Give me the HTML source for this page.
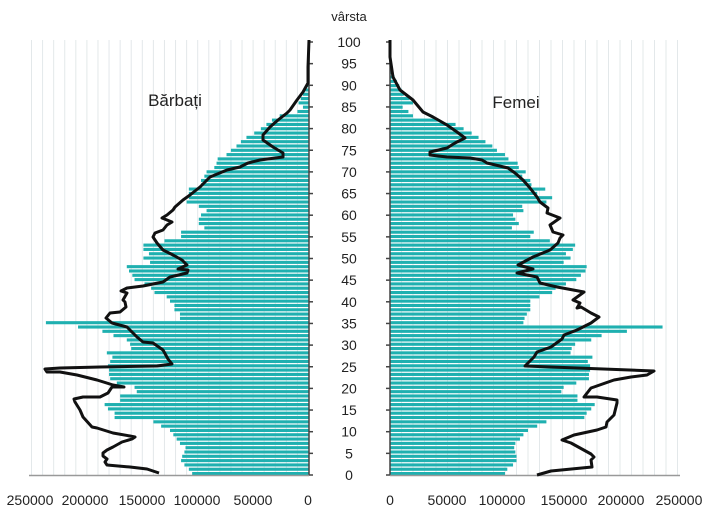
<!DOCTYPE html>
<html><head><meta charset="utf-8"><style>
html,body{margin:0;padding:0;background:#fff;}
svg{display:block;font-family:"Liberation Sans",Arial,sans-serif;}
</style></head><body>
<svg id="s" width="728" height="531" viewBox="0 0 728 531" xmlns="http://www.w3.org/2000/svg">
<g id="grid" stroke="#e3e8ea" stroke-width="1"></g>
<g id="bars" fill="#1fb0b0"></g>
<g id="axes" stroke="#444" stroke-width="1.5" fill="none"></g>
<polyline id="ml" fill="none" stroke="#111" stroke-width="3" stroke-linejoin="round"/>
<polyline id="fl" fill="none" stroke="#111" stroke-width="3" stroke-linejoin="round"/>
<g font-size="14" fill="#222" text-anchor="middle">
<text x="349" y="21" font-size="13">vârsta</text>
<text x="175" y="106" font-size="17">Bărbați</text>
<text x="516" y="108" font-size="17">Femei</text>
</g>
<g id="agel" font-size="14" fill="#222" text-anchor="middle"></g>
<g font-size="14" fill="#222" text-anchor="middle">
<text x="30" y="505">250000</text>
<text x="85" y="505">200000</text>
<text x="142" y="505">150000</text>
<text x="197" y="505">100000</text>
<text x="253" y="505">50000</text>
<text x="308" y="505">0</text>
<text x="390" y="505">0</text>
<text x="447" y="505">50000</text>
<text x="502" y="505">100000</text>
<text x="564" y="505">150000</text>
<text x="621" y="505">200000</text>
<text x="679" y="505">250000</text>
</g>
</svg>
<script>
var NS="http://www.w3.org/2000/svg";
function el(p,t,a){var e=document.createElementNS(NS,t);for(var k in a)e.setAttribute(k,a[k]);document.getElementById(p).appendChild(e);return e;}
var L0=308.5,LS=0.001108,R0=390,RS=0.00115;
function yA(a){return 473.5-4.31*a;}
// grid
for(var v=10000;v<=250000;v+=10000){
 var xl=L0-v*LS; el('grid','line',{x1:xl,y1:40,x2:xl,y2:475});
 var xr=R0+v*RS; el('grid','line',{x1:xr,y1:40,x2:xr,y2:475});
}
var M=[105,108,112,115,114,112,111,116,119,122,125,133,140,175,175,181,184,170,170,155,157,173,179,180,180,181,179,177,182,160,161,164,176,186,208,237,
116,116,121,121,125,128,139,142,148,157,159,162,164,143,149,144,149,149,130,115,115,94,99,99,97,92,99,110,108,108,108,97,97,94,92,85,83,82,74,70,65,61,56,49,43,
38,33,26,10,5,9,7,5,3,2,1.5,1,0.7,0.5,0.3,0.2,0.2,0.1,0.1,0.1];
var F=[100,102,107,110,110,109,108,109,113,116,120,128,136,169,171,175,178,163,163,149,151,162,173,173,174,174,172,176,157,158,161,175,184,206,237,
116,117,119,122,122,122,130,141,144,153,162,166,170,171,151,157,153,159,161,139,122,125,106,112,109,107,116,115,136,141,128,135,123,122,115,118,112,111,103,100,93,89,83,77,71,64,57,42,
20,16,11,20,17,12,10,8,6,4,2,1.5,1,0.5,0.5,0.4,0.3,0.2,0.2];
for(var a=0;a<=100;a++){
 var y=yA(a)-1.5;
 var m=(M[a]||0)*1000, f=(F[a]||0)*1000;
 if(m>0){var w=m*LS; el('bars','rect',{x:L0-w,y:y,width:w,height:3.1});}
 if(f>0){var w2=f*RS; el('bars','rect',{x:R0,y:y,width:w2,height:3.1});}
}
// axes
el('axes','line',{x1:309,y1:40,x2:309,y2:475.5});
el('axes','line',{x1:390,y1:40,x2:390,y2:475.5});
el('axes','line',{x1:29,y1:475.5,x2:309,y2:475.5,stroke:'#999'});
el('axes','line',{x1:390,y1:475.5,x2:680,y2:475.5,stroke:'#999'});
for(var a=0;a<=100;a+=5){
 var y=475-4.33*a;
 el('axes','line',{x1:309,y1:y,x2:313,y2:y});
 el('axes','line',{x1:386,y1:y,x2:390,y2:y});
 var t=el('agel','text',{x:349,y:y+5});t.textContent=a;
}
var ml="159,473 147,469 130,467 107,465 105,462 107,459 103,456 103,453 107,450 113,447 122,442 132,439 135,437 130,436 113,433 97,428 92,427 83,417 80,410 75,402 74,399 83,397 100,397 108,393 112,387 124,387 113,385 97,380 77,375 60,372 47,372 45,369 60,368 100,367 157,366 172,364 168,359 163,350 153,343 143,342 137,337 127,327 112,323 106,318 110,313 120,312 126,307 125,302 123,300 127,293 121,291 127,288 143,286 163,282 170,277 187,273 188,270 178,269 187,265 182,260 173,255 163,250 157,243 153,237 155,233 163,230 167,225 172,222 162,218 167,215 173,210 175,207 183,200 190,195 200,187 210,177 227,170 240,167 248,163 260,160 283,157 283,153 273,147 263,140 263,135 270,127 278,120 287,113 290,110 297,100 303,92 308,83 308,67 309,40";
document.getElementById('ml').setAttribute('points',ml);
var fl="537,475 551,471 592,467 591,460 594,457 591,454 571,443 562,440 574,435 597,430 606,427 607,422 614,415 617,403 617,400 597,397 584,397 591,388 594,387 614,380 631,377 647,375 654,371 551,367 525,366 529,362 534,357 537,352 551,347 562,339 564,335 577,330 591,323 599,317 591,313 581,307 577,308 580,303 573,300 584,292 557,287 540,283 537,277 517,273 533,269 518,265 533,257 550,250 558,243 560,238 563,235 553,232 550,225 560,218 547,213 548,208 540,202 537,197 530,188 523,180 515,173 508,168 487,163 482,160 470,158 447,157 430,155 430,152 447,148 455,143 465,138 457,132 447,125 433,117 423,112 413,100 400,90 393,77 390,57 390,40";
document.getElementById('fl').setAttribute('points',fl);
</script>
</body></html>
